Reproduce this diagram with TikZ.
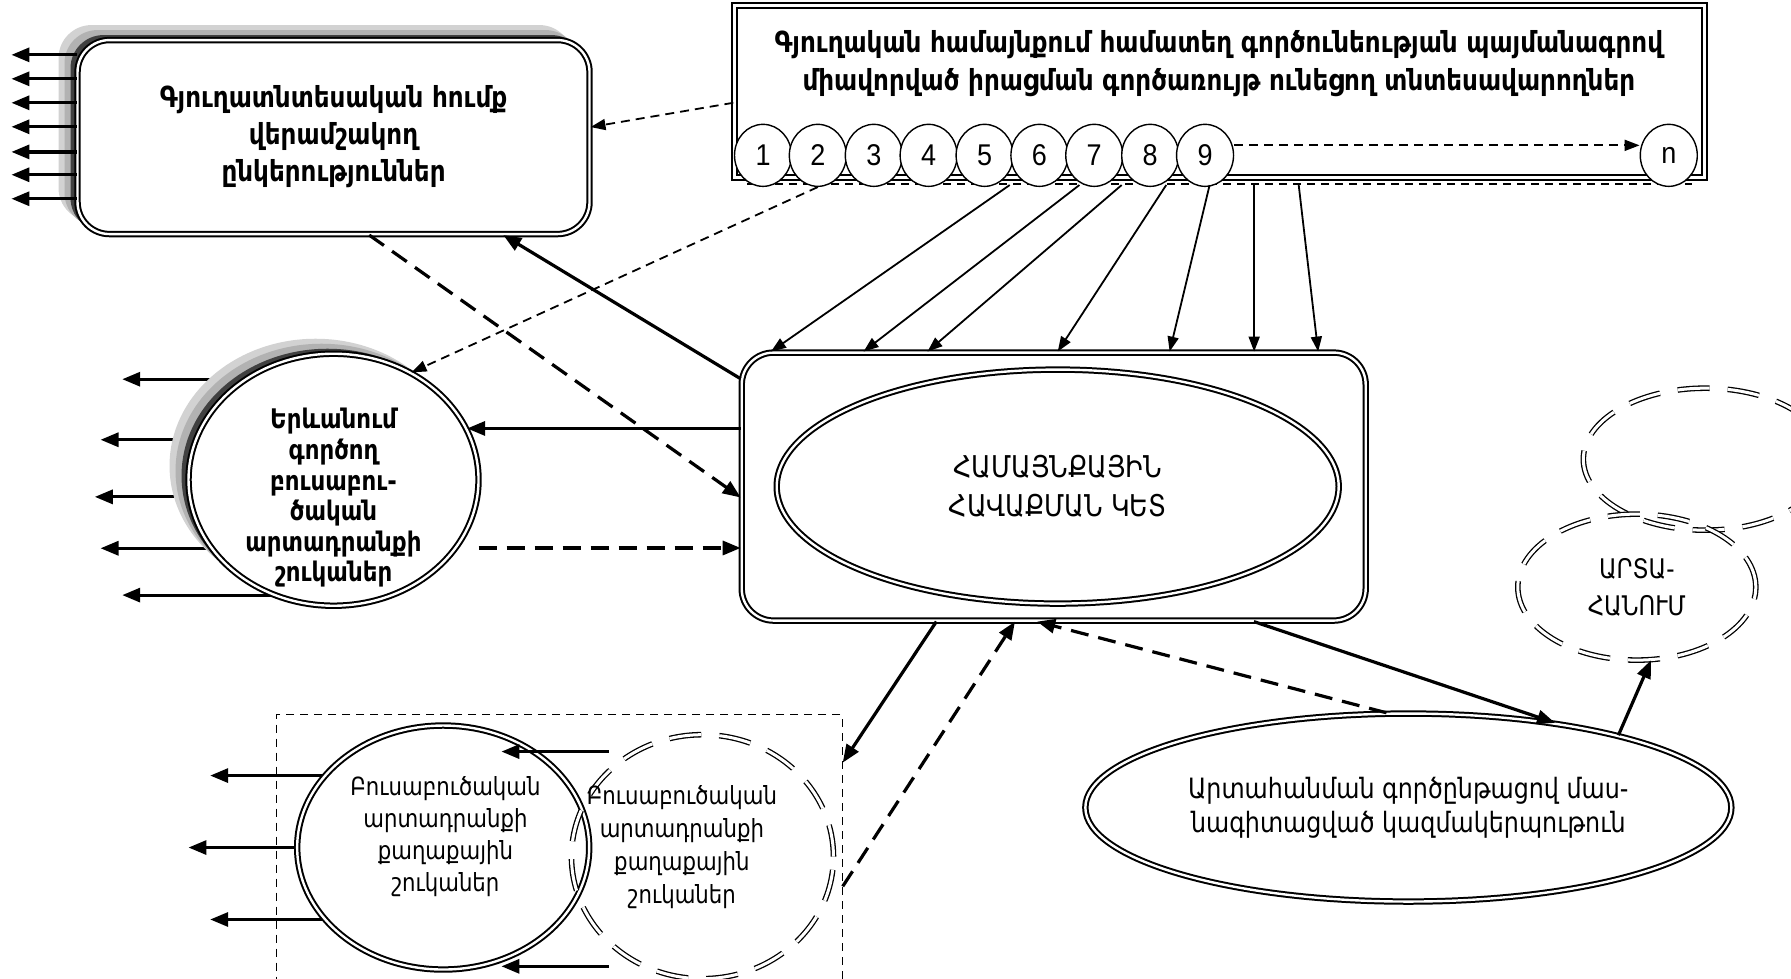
\documentclass[tikz,border=0pt]{standalone}
\usepackage{fontspec}
\setmainfont{DejaVu Sans}[FakeStretch=0.85]
\newfontfamily\numfont{Liberation Sans}[FakeStretch=0.9]
\usetikzlibrary{shapes.geometric, arrows.meta, shadows, backgrounds}

\tikzstyle{dbl} = [draw, line width=1pt, double=white, double distance=1.2pt]
\tikzstyle{dashell} = [ellipse, draw, line width=0.65pt, double=white, double distance=1.5pt, dash pattern=on 16pt off 9pt, inner sep=0pt]
\tikzstyle{stackshadow} = [general shadow={fill=gray!35, draw=gray!35, shadow xshift=-9pt, shadow yshift=7pt},
  general shadow={fill=gray!60, draw=gray!60, shadow xshift=-6pt, shadow yshift=4.5pt},
  general shadow={fill=black!75, draw=black!75, shadow xshift=-3pt, shadow yshift=2pt}]
\tikzstyle{cpny} = [rectangle, rounded corners=16pt, dbl, stackshadow, fill=white, minimum width=256pt, minimum height=97pt, align=center, font=\fontsize{14.5}{18.5}\selectfont\bfseries]
\tikzstyle{farmbox} = [rectangle, dbl, fill=white, minimum width=485pt, minimum height=86pt]
\tikzstyle{unitell} = [ellipse, draw, line width=0.7pt, fill=white, minimum width=28.5pt, minimum height=31pt, inner sep=0pt, font=\numfont\fontsize{15}{15}\selectfont]
\tikzstyle{mktell} = [ellipse, dbl, stackshadow, fill=white, minimum width=145pt, minimum height=126pt, inner sep=0pt]
\tikzstyle{hubbox} = [rectangle, rounded corners=16pt, dbl, fill=white, minimum width=312pt, minimum height=134pt]
\tikzstyle{hubell} = [ellipse, dbl, fill=white, minimum width=281pt, minimum height=117pt, align=center, font=\fontsize{15}{19.4}\selectfont]
\tikzstyle{expell} = [ellipse, dbl, fill=white, minimum width=323pt, minimum height=94pt, align=center, font=\fontsize{14}{17}\selectfont]
\tikzstyle{cityell} = [ellipse, dbl, fill=white, minimum width=146pt, minimum height=122pt, inner sep=0pt]
\tikzstyle{cityframe} = [rectangle, draw, line width=0.6pt, dash pattern=on 4pt off 3pt, minimum width=283pt, minimum height=157pt]
\tikzstyle{flowarr} = [-{Triangle[length=9pt, width=7pt]}, line width=1.6pt]
\tikzstyle{dflowarr} = [flowarr, dash pattern=on 9pt off 5pt]
\tikzstyle{linkarr} = [-{Triangle[length=7.5pt, width=5.5pt]}, line width=0.9pt]
\tikzstyle{dlinkarr} = [linkarr, dash pattern=on 4.5pt off 3pt]

\begin{document}
\begin{tikzpicture}[x=0.5711pt, y=-0.5711pt]
  \useasboundingbox (0,0) rectangle (1568,857);

  % processing companies
  \node[cpny] (proc) at (292,120) {Գյուղատնտեսական հումք\\վերամշակող\\ընկերություններ};

  % farm holders with numbered units
  \node[farmbox] (farm) at (1067.5,80) {};
  \node[align=center, font=\fontsize{14.5}{19}\selectfont\bfseries] (farmtxt) at (1067,56)
    {Գյուղական համայնքում համատեղ գործունեության պայմանագրով\\միավորված իրացման գործառույթ ունեցող տնտեսավարողներ};
  \coordinate (railw) at (654,161);
  \coordinate (raile) at (1481,161);
  \draw[line width=0.6pt, dash pattern=on 4pt off 3pt] (railw) -- (raile);
  \node[unitell] (n1) at (668,136) {1};
  \node[unitell] (n2) at (716,136) {2};
  \node[unitell] (n3) at (765,136) {3};
  \node[unitell] (n4) at (813,136) {4};
  \node[unitell] (n5) at (862,136) {5};
  \node[unitell] (n6) at (910,136) {6};
  \node[unitell] (n7) at (958,136) {7};
  \node[unitell] (n8) at (1007,136) {8};
  \node[unitell] (n9) at (1055,136) {9};
  \node[unitell] (nn) at (1461,136) {n};
  \draw[dlinkarr] ([yshift=5pt]n9.east) -- ([yshift=5pt]nn.west);

  % Yerevan markets
  \node[mktell] (mkt) at (292,420) {};
  \node[align=center, font=\fontsize{13.5}{15.3}\selectfont\bfseries] (mkttxt) at (292,436)
    {Երևանում\\գործող\\բուսաբու-\\ծական\\արտադրանքի\\շուկաներ};

  % collection point
  \node[hubbox] (hub) at (922.5,426) {};
  \node[hubell] (core) at (926,426) {ՀԱՄԱՅՆՔԱՅԻՆ\\ՀԱՎԱՔՄԱՆ ԿԵՏ};

  % export
  \node[expell] (exp) at (1233,707) {Արտահանման գործընթացով մաս-\\նագիտացված կազմակերպութուն};
  \node[dashell, minimum width=122pt, minimum height=71pt] (abroad) at (1493,402) {};
  \node[dashell, minimum width=119pt, minimum height=73pt, align=center, font=\fontsize{13.5}{18.5}\selectfont] (artah) at (1433,514) {ԱՐՏԱ-\\ՀԱՆՈՒՄ};

  % city markets
  \node[cityframe] (urban) at (489.5,763) {};
  \node[cityell] (city) at (388,742) {};
  \node[align=center, font=\fontsize{12.5}{16}\selectfont] (citytxt1) at (390,732)
    {Բուսաբուծական\\արտադրանքի\\քաղաքային\\շուկաներ};
  \node[dashell, minimum width=131pt, minimum height=122pt] (citydash) at (615,750) {};
  \node[align=center, font=\fontsize{12.5}{16.5}\selectfont] (citytxt2) at (597,742)
    {Բուսաբուծական\\արտադրանքի\\քաղաքային\\շուկաներ};

  % outgoing arrows
  \coordinate (p1) at (10,48);
  \coordinate (p2) at (10,69);
  \coordinate (p3) at (10,90);
  \coordinate (p4) at (10,111);
  \coordinate (p5) at (10,133);
  \coordinate (p6) at (10,153);
  \coordinate (p7) at (10,174);
  \draw[flowarr] (proc.west |- p1) -- (p1);
  \draw[flowarr] (proc.west |- p2) -- (p2);
  \draw[flowarr] (proc.west |- p3) -- (p3);
  \draw[flowarr] (proc.west |- p4) -- (p4);
  \draw[flowarr] (proc.west |- p5) -- (p5);
  \draw[flowarr] (proc.west |- p6) -- (p6);
  \draw[flowarr] (proc.west |- p7) -- (p7);

  \coordinate (m1) at (107,332);
  \coordinate (m2) at (88,385);
  \coordinate (m3) at (83,435);
  \coordinate (m4) at (88,480);
  \coordinate (m5) at (107,521);
  \coordinate (c1) at (184,679);
  \coordinate (c2) at (165,742);
  \coordinate (c3) at (184,805);
  \begin{scope}[on background layer]
    \draw[flowarr] (mkt.center |- m1) -- (m1);
    \draw[flowarr] (mkt.center |- m2) -- (m2);
    \draw[flowarr] (mkt.center |- m3) -- (m3);
    \draw[flowarr] (mkt.center |- m4) -- (m4);
    \draw[flowarr] (mkt.center |- m5) -- (m5);
    \draw[flowarr] (city.center |- c1) -- (c1);
    \draw[flowarr] (city.center |- c2) -- (c2);
    \draw[flowarr] (city.center |- c3) -- (c3);
  \end{scope}

  % units to collection point
  \coordinate (r1) at (884,162);
  \coordinate (r2) at (945,162);
  \coordinate (r3) at (982,162);
  \coordinate (r4) at (1021,162);
  \coordinate (r5) at (1059,162);
  \coordinate (r6) at (1098,162);
  \coordinate (r7) at (1137,162);
  \draw[linkarr] (r1) -- (hub.north -| 675,0);
  \draw[linkarr] (r2) -- (hub.north -| 756,0);
  \draw[linkarr] (r3) -- (hub.north -| 812,0);
  \draw[linkarr] (r4) -- (hub.north -| 926,0);
  \draw[linkarr] (r5) -- (hub.north -| 1024,0);
  \draw[linkarr] (r6) -- (hub.north -| 1098,0);
  \draw[linkarr] (r7) -- (hub.north -| 1154,0);

  % links
  \draw[dlinkarr] ([yshift=-5.7pt]farm.west) -- ([yshift=5pt]proc.east);
  \draw[dlinkarr] (n2.south) -- (mkt.54);
  \draw[dflowarr] (proc.290) -- (hub.182);
  \draw[flowarr] (hub.161) -- (proc.330);
  \draw[flowarr] (hub.west |- mkt.21) -- (mkt.21);
  \draw[dflowarr, shorten <=11pt] (mkt.331) -- (hub.west |- mkt.331);
  \draw[flowarr] (hub.229) -- (urban.21);
  \draw[dflowarr] (urban.357) -- (hub.254);
  \draw[dflowarr] (exp.103) -- (hub.263);
  \draw[flowarr] (hub.326) -- (exp.30);
  \draw[flowarr] (exp.19) -- (artah.281);

  % between city markets
  \coordinate (ct1) at (439,658);
  \coordinate (ct2) at (439,846);
  \draw[flowarr] ([xshift=19pt]citydash.west |- ct1) -- (ct1);
  \draw[flowarr] ([xshift=19pt]citydash.west |- ct2) -- (ct2);
\end{tikzpicture}
\end{document}
